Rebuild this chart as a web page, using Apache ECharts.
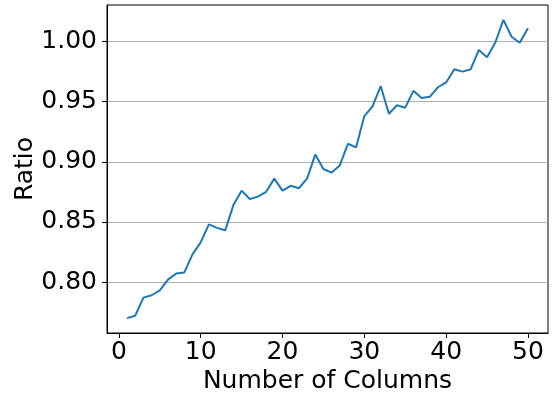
<!DOCTYPE html>
<html>
<head>
<meta charset="utf-8">
<script src="https://cdn.jsdelivr.net/npm/echarts@6/dist/echarts.min.js"></script>
<style>
  html, body { margin: 0; padding: 0; background: #fff; }
  #chart { width: 557px; height: 400px; }
</style>
</head>
<body>
<div id="chart"></div>
<script>
// Number of columns (x) and the measured ratio for each
const columns = [
  1, 2, 3, 4, 5, 6, 7, 8, 9, 10,
  11, 12, 13, 14, 15, 16, 17, 18, 19, 20,
  21, 22, 23, 24, 25, 26, 27, 28, 29, 30,
  31, 32, 33, 34, 35, 36, 37, 38, 39, 40,
  41, 42, 43, 44, 45, 46, 47, 48, 49, 50
];
const ratios = [
  0.770, 0.772, 0.787, 0.789, 0.793, 0.802, 0.807, 0.808, 0.823, 0.833,
  0.848, 0.845, 0.843, 0.864, 0.876, 0.869, 0.871, 0.875, 0.886, 0.876,
  0.880, 0.878, 0.886, 0.906, 0.894, 0.891, 0.897, 0.915, 0.912, 0.938,
  0.946, 0.963, 0.940, 0.947, 0.945, 0.959, 0.953, 0.954, 0.962, 0.966,
  0.977, 0.975, 0.977, 0.993, 0.987, 0.999, 1.018, 1.004, 0.999, 1.011
];
const xTicks = [0, 10, 20, 30, 40, 50];
const yTicks = [0.80, 0.85, 0.90, 0.95, 1.00];

// Axis extents padded 5% beyond the data, like the usual autoscale margin
const xPad = (columns[columns.length - 1] - columns[0]) * 0.05;
const yMinData = Math.min(...ratios), yMaxData = Math.max(...ratios);
const yPad = (yMaxData - yMinData) * 0.05;

const font = 'DejaVu Sans';
const chart = echarts.init(document.getElementById('chart'), null, { renderer: 'canvas' });
chart.setOption({
  animation: false,
  backgroundColor: '#fff',
  grid: {
    left: 107, right: 9, top: 5, bottom: 67,
    show: true, borderColor: '#000', borderWidth: 1, backgroundColor: 'transparent'
  },
  xAxis: {
    type: 'value',
    min: columns[0] - xPad,
    max: columns[columns.length - 1] + xPad,
    name: 'Number of Columns',
    nameLocation: 'middle',
    nameGap: 36,
    nameMoveOverlap: false,
    nameTextStyle: { fontFamily: font, fontSize: 25, color: '#000', verticalAlign: 'top' },
    axisLine: { show: true, onZero: false, lineStyle: { color: '#000', width: 1 } },
    axisTick: { show: true, length: 5, customValues: xTicks, lineStyle: { color: '#000', width: 1 } },
    axisLabel: {
      customValues: xTicks, margin: 7,
      fontFamily: font, fontSize: 25, color: '#000',
      formatter: v => String(Math.round(v))
    },
    splitLine: { show: false }
  },
  yAxis: {
    type: 'value',
    min: yMinData - yPad,
    max: yMaxData + yPad,
    name: 'Ratio',
    nameLocation: 'middle',
    nameGap: 69,
    nameMoveOverlap: false,
    nameTextStyle: { fontFamily: font, fontSize: 25, color: '#000' },
    axisLine: { show: true, onZero: false, lineStyle: { color: '#000', width: 1 } },
    axisTick: { show: true, length: 5, customValues: yTicks, lineStyle: { color: '#000', width: 1 } },
    axisLabel: {
      customValues: yTicks, margin: 10,
      fontFamily: font, fontSize: 25, color: '#000',
      formatter: v => v.toFixed(2)
    },
    splitLine: { show: true, lineStyle: { color: '#b0b0b0', width: 1 } }
  },
  series: [{
    type: 'line',
    data: columns.map((c, i) => [c, ratios[i]]),
    showSymbol: false,
    lineStyle: { color: '#1f77b4', width: 2 },
    itemStyle: { color: '#1f77b4' }
  }]
});
</script>
</body>
</html>
